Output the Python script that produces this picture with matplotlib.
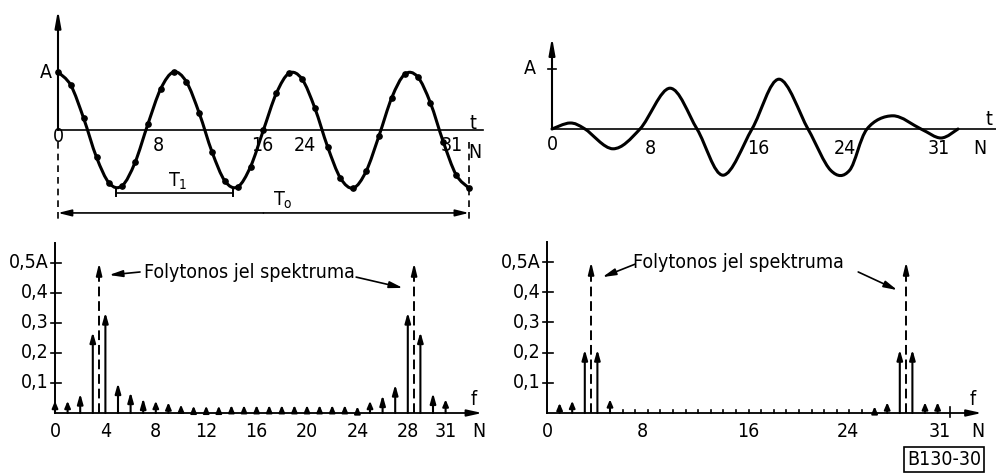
import numpy as np
import matplotlib.pyplot as plt
from matplotlib.path import Path
from matplotlib.patches import PathPatch

tl_n = list(range(33))
tl_val = [1.00, 0.77, 0.20, -0.47, -0.92, -0.96, -0.56, 0.10, 0.71, 1.00, 0.83, 0.29,
          -0.38, -0.88, -0.98, -0.63, 0.00, 0.63, 0.98, 0.88, 0.38, -0.29, -0.83, -1.00,
          -0.71, -0.10, 0.56, 0.96, 0.92, 0.47, -0.20, -0.77, -1.00]
tl_tick_pos = [0, 7.8, 15.9, 19.2, 30.7]
tl_tick_lbl = ['0', '8', '16', '24', '31']

# top right: second waveform, key points
tr_x = [0, 1.44, 2.64, 4.88, 7.04, 9.44, 11.6, 13.68, 16.0, 18.16, 20.48,
        22.3, 23.8, 25.2, 27.28, 29.52, 31.12, 32.48]
tr_y = [0, 0.10, 0, -0.33, 0, 0.68, 0, -0.77, 0, 0.83, 0,
        -0.69, -0.69, 0, 0.22, 0, -0.15, 0]
tr_tick_pos = [0, 7.84, 16.5, 23.4, 30.96]
tr_tick_lbl = ['0', '8', '16', '24', '31']

# bottom left: line spectrum of the left signal
bl_k = list(range(32))
bl_amp = [0.04, 0.04, 0.065, 0.27, 0.335, 0.10, 0.07, 0.05, 0.04, 0.035, 0.028,
          0.024, 0.024, 0.024, 0.026, 0.026, 0.026, 0.026, 0.026, 0.026, 0.026,
          0.026, 0.026, 0.026, 0.022, 0.04, 0.06, 0.095, 0.335, 0.27, 0.067, 0.045]
bl_tick_pos = [0, 4, 8, 12, 16, 20, 24, 28, 31]

# bottom right: line spectrum of the right signal
br_k = list(range(32))
br_amp = [0.0, 0.033, 0.04, 0.21, 0.21, 0.045, 0.01, 0.01, 0.01, 0.01, 0.01,
          0.01, 0.01, 0.01, 0.01, 0.01, 0.01, 0.01, 0.01, 0.01, 0.01,
          0.01, 0.01, 0.01, 0.01, 0.01, 0.022, 0.035, 0.21, 0.21, 0.035, 0.035]
br_tick_pos = [0, 7.6, 16.0, 23.9, 31.2]
br_tick_lbl = ['0', '8', '16', '24', '31']

# continuous spectrum lines (dashed)
cont_pos = [3.5, 28.5]
cont_amp = [0.5, 0.5]

amp_ticks = [0.1, 0.2, 0.3, 0.4, 0.5]
amp_lbl = ['0,1', '0,2', '0,3', '0,4', '0,5A']

W, H = 996, 475
fig = plt.figure(figsize=(W / 100, H / 100), dpi=100)
FONT = dict(family='DejaVu Sans', fontstretch='condensed', fontsize=14, color='black')


def panel(left, right, top, bottom, x0, xs, y0, ys):
    ax = fig.add_axes([left / W, 1 - bottom / H, (right - left) / W, (bottom - top) / H])
    ax.set_xlim((left - x0) / xs, (right - x0) / xs)
    ax.set_ylim((y0 - bottom) / ys, (y0 - top) / ys)
    ax.axis('off')
    return ax


def arrow(ax, x0, y0, x1, y1, lw=1.3, hl=0.75, hw=0.17):
    ax.annotate('', xy=(x1, y1), xytext=(x0, y0),
                arrowprops=dict(arrowstyle=f'-|>,head_length={hl},head_width={hw}',
                                lw=lw, color='black', shrinkA=0, shrinkB=0))


def smooth(ax, x, y, lw=2.0):
    # Catmull-Rom through the points, drawn as cubic bezier path
    pts = np.column_stack([x, y]).astype(float)
    p = np.vstack([pts[0], pts, pts[-1]])
    verts, codes = [pts[0]], [Path.MOVETO]
    for i in range(1, len(p) - 2):
        verts += [p[i] + (p[i + 1] - p[i - 1]) / 6, p[i + 1] - (p[i + 2] - p[i]) / 6, p[i + 1]]
        codes += [Path.CURVE4] * 3
    ax.add_patch(PathPatch(Path(verts, codes), fill=False, lw=lw, color='black',
                           capstyle='round', joinstyle='round'))


def label(ax, x, y, s, **kw):
    ax.text(x, y, s, ha=kw.pop('ha', 'center'), va=kw.pop('va', 'center'), **FONT, **kw)


# ---------- top left ----------
ax = panel(20, 500, 0, 232, 58, 12.84, 130, 58)
arrow(ax, 0, 0, 0, 2.07, lw=1.5, hl=1.0, hw=0.18)
ax.plot([0, 33.1], [0, 0], color='black', lw=1.2)
smooth(ax, tl_n, tl_val, lw=2.2)
ax.plot(tl_n, tl_val, 'o', color='black', ms=3.8)
label(ax, -0.45, 1.0, 'A', ha='right')
label(ax, 32.3, 0.12, 't')
label(ax, 32.45, -0.38, 'N')
for xp, s in zip(tl_tick_pos, tl_tick_lbl):
    label(ax, xp, -0.12 if s == '0' else -0.27, s)
for xp in [0, 32]:
    ax.plot([xp, xp], [-0.2, -1.6], color='black', lw=1.2, ls=(0, (4, 3)))
arrow(ax, 16, -1.43, 0, -1.43, lw=1.2, hl=0.8, hw=0.2)
arrow(ax, 16, -1.43, 32, -1.43, lw=1.2, hl=0.8, hw=0.2)
label(ax, 17.5, -1.22, r'$\mathregular{T_o}$')
ax.plot([4.5, 13.6], [-1.086, -1.086], color='black', lw=1.2)
for xp in [4.5, 13.6]:
    ax.plot([xp, xp], [-1.0, -1.13], color='black', lw=1.4)
label(ax, 9.35, -0.88, r'$\mathregular{T_1}$')

# ---------- top right ----------
ax = panel(520, 996, 0, 232, 552, 12.5, 129, 60)
arrow(ax, 0, 0, 0, 1.53, lw=1.5, hl=1.0, hw=0.18)
ax.plot([0, 35.6], [0, 0], color='black', lw=1.2)
ax.plot([-0.35, 0.35], [1.0, 1.0], color='black', lw=1.2)
smooth(ax, tr_x, tr_y, lw=2.2)
label(ax, -1.3, 1.0, 'A', ha='right')
label(ax, 34.96, 0.16, 't')
label(ax, 34.2, -0.32, 'N')
for xp, s in zip(tr_tick_pos, tr_tick_lbl):
    label(ax, xp, -0.25 if s == '0' else -0.33, s)


# ---------- spectra ----------
def spectrum(ax, k, amp, tick_pos, tick_lbl, x_end, txt_x, txt_y, arr_l, arr_r):
    ax.plot([0, 0], [0, 0.567], color='black', lw=1.4)
    arrow(ax, 0, 0, x_end, 0, lw=1.3, hl=0.9, hw=0.2)
    for v, s in zip(amp_ticks, amp_lbl):
        ax.plot([-0.3, 0.5], [v, v], color='black', lw=1.2)
        label(ax, -0.5, v, s, ha='right')
    for kk, a in zip(k, amp):
        if a >= 0.05:
            arrow(ax, kk, 0, kk, a, lw=1.5, hl=0.6, hw=0.17)
        elif a >= 0.02:
            arrow(ax, kk, 0, kk, a, lw=1.5, hl=0.4, hw=0.17)
        elif a > 0:
            ax.plot([kk, kk], [0, a], color='black', lw=1.2)
    for xp, a in zip(cont_pos, cont_amp):
        ax.plot([xp, xp], [0, a - 0.03], color='black', lw=1.4, ls=(0, (5, 2.5)))
        arrow(ax, xp, a - 0.035, xp, a, lw=1.4, hl=0.7, hw=0.17)
    for xp, s in zip(tick_pos, tick_lbl):
        label(ax, xp, -0.062, s)
    label(ax, x_end - 0.7, 0.045, 'f')
    label(ax, x_end - 0.3, -0.062, 'N')
    label(ax, txt_x, txt_y, 'Folytonos jel spektruma')
    arrow(ax, *arr_l, lw=1.2, hl=0.8, hw=0.2)
    arrow(ax, *arr_r, lw=1.2, hl=0.8, hw=0.2)


ax = panel(0, 500, 232, 475, 55, 12.6, 413, 300)
spectrum(ax, bl_k, bl_amp, bl_tick_pos, [str(t) for t in bl_tick_pos], 33.9,
         15.4, 0.47, (6.75, 0.47, 4.3, 0.46), (23.9, 0.453, 27.6, 0.417))

ax = panel(500, 996, 232, 475, 547, 12.6, 413, 302)
spectrum(ax, br_k, br_amp, br_tick_pos, br_tick_lbl, 34.5,
         15.2, 0.5, (7.0, 0.493, 4.4, 0.45), (24.7, 0.467, 27.8, 0.407))
ax.plot([32, 32], [-0.012, 0.02], color='black', lw=1.2)
ax.text(31.5, -0.155, 'B130-30', ha='center', va='center', **FONT,
        bbox=dict(boxstyle='square,pad=0.15', fc='white', ec='black', lw=1.2))

fig.savefig('out.png', dpi=100, facecolor='white')
